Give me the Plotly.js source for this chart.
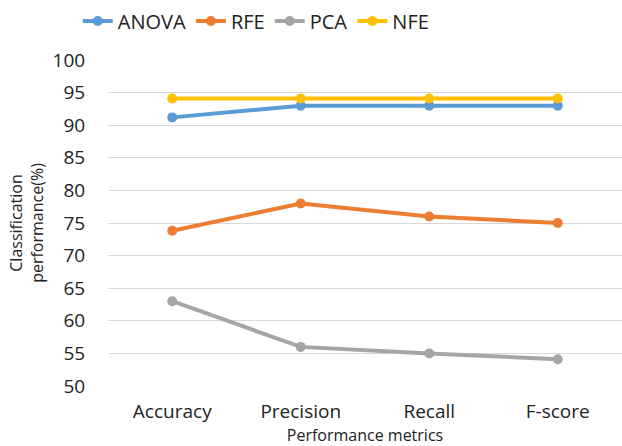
<!DOCTYPE html>
<html>
<head>
<meta charset="utf-8">
<script src="https://cdn.plot.ly/plotly-3.0.1.min.js"></script>
<style>html,body{margin:0;padding:0;background:#fff;}#chart{width:622px;height:446px;}</style>
</head>
<body>
<div id="chart"></div>
<script>
const categories = ["Accuracy", "Precision", "Recall", "F-score"];
const anova = [91.2, 93.0, 93.0, 93.0];
const rfe = [73.8, 78.0, 76.0, 75.0];
const pca = [63.0, 56.0, 55.0, 54.1];
const nfe = [94.1, 94.1, 94.1, 94.1];
const seriesNames = ["ANOVA", "RFE", "PCA", "NFE"];
const colors = ["#5B9BD5", "#ED7D31", "#A5A5A5", "#FFC000"];
const allValues = [anova, rfe, pca, nfe];

const traces = allValues.map((vals, i) => ({
  x: categories,
  y: vals,
  name: seriesNames[i],
  type: "scatter",
  mode: "lines+markers",
  line: {color: colors[i], width: 4},
  marker: {color: colors[i], size: 10}
}));

const font = "'Open Sans', 'Liberation Sans', sans-serif";
const layout = {
  width: 622, height: 446,
  margin: {l: 108, r: 0, t: 60, b: 60},
  paper_bgcolor: "#fff", plot_bgcolor: "#fff",
  font: {family: font, color: "#222"},
  showlegend: true,
  legend: {
    orientation: "h", xref: "container", yref: "container",
    x: 0.125, xanchor: "left", y: 0.953, yanchor: "middle",
    font: {size: 20, color: "#222"}, traceorder: "normal"
  },
  xaxis: {
    type: "category",
    range: [-0.5, 3.5],
    showgrid: false, zeroline: false, showline: false,
    ticks: "outside", ticklen: 8, tickcolor: "rgba(0,0,0,0)",
    tickfont: {size: 19, color: "#222"},
    title: {text: "Performance metrics", font: {size: 16, color: "#222"}, standoff: 7}
  },
  yaxis: {
    range: [50, 100], dtick: 5, tick0: 50,
    showgrid: true, gridcolor: "#d9d9d9", gridwidth: 1,
    zeroline: false, showline: false,
    ticks: "outside", ticklen: 18, tickcolor: "rgba(0,0,0,0)",
    tickfont: {size: 19, color: "#222"},
    title: {text: "Classification<br>performance(%)", font: {size: 16, color: "#222"}, standoff: 5}
  }
};

Plotly.newPlot("chart", traces, layout, {displayModeBar: false, staticPlot: true});
</script>
</body>
</html>
